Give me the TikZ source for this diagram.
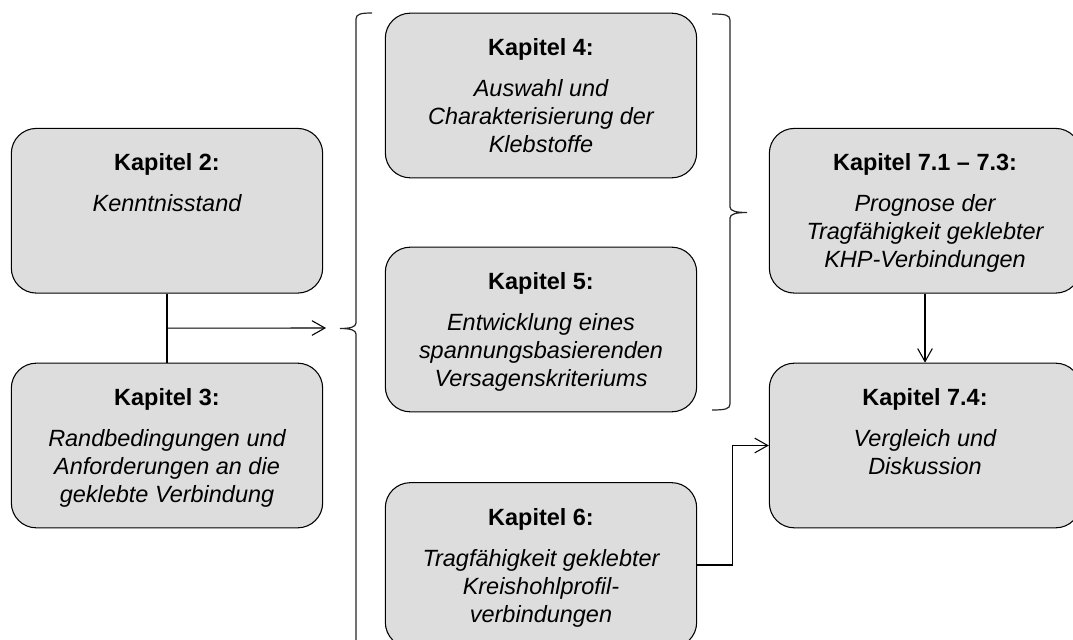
\documentclass[tikz,border=0pt]{standalone}
\usepackage{fontspec}
\setmainfont{Liberation Sans}
\usetikzlibrary{arrows.meta,calc}
\definecolor{boxgray}{HTML}{DDDDDD}
\newcommand{\bodytext}[1]{\begin{minipage}[t]{228pt}\centering\fontsize{17.6}{21}\selectfont\itshape #1\end{minipage}}
\tikzset{
  chap/.style={draw=black, line width=0.8pt, fill=boxgray, rounded corners=18.75pt,
    minimum width=233.5pt, minimum height=123.5pt, inner sep=0pt},
  ttl/.style={anchor=base, inner sep=0pt, font=\fontsize{17.6}{21}\selectfont\bfseries},
  bodyt/.style={anchor=base, inner sep=0pt},
  conn/.style={line width=0.8pt},
  arr/.style={conn, -{Straight Barb[length=9.75pt,width=11pt]}},
  brace/.style={line width=0.9pt, draw=black!85},
}
\begin{document}
\begin{tikzpicture}[x=0.75pt,y=-0.75pt]
\useasboundingbox (0,0) rectangle (1073,639);
\clip (0,0) rectangle (1073,639);

% boxes
\node[chap] (k2) at (167,210.75) {};
\node[chap] (k3) at (167,445.5) {};
\node[chap] (k4) at (541,95.5) {};
\node[chap] (k5) at (541,329.5) {};
\node[chap] (k6) at (541,565) {};
\node[chap] (k71) at (925,210.75) {};
\node[chap] (k74) at (925,445.5) {};

% texts
\node[ttl] (k2t) at ($(k2.north)+(0,43)$) {Kapitel 2:};
\node[bodyt] (k2b) at ($(k2.north)+(0,84)$) {\bodytext{Kenntnisstand}};

\node[ttl] (k3t) at ($(k3.north)+(0,43)$) {Kapitel 3:};
\node[bodyt] (k3b) at ($(k3.north)+(0,84)$) {\bodytext{Randbedingungen und\\Anforderungen an die\\geklebte Verbindung}};

\node[ttl] (k4t) at ($(k4.north)+(0,43)$) {Kapitel 4:};
\node[bodyt] (k4b) at ($(k4.north)+(0,84)$) {\bodytext{Auswahl und\\Charakterisierung der\\Klebstoffe}};

\node[ttl] (k5t) at ($(k5.north)+(0,43)$) {Kapitel 5:};
\node[bodyt] (k5b) at ($(k5.north)+(0,84)$) {\bodytext{Entwicklung eines\\spannungsbasierenden\\Versagenskriteriums}};

\node[ttl] (k6t) at ($(k6.north)+(0,43)$) {Kapitel 6:};
\node[bodyt] (k6b) at ($(k6.north)+(0,84)$) {\bodytext{Tragfähigkeit geklebter\\Kreishohlprofil-\\verbindungen}};

\node[ttl] (k71t) at ($(k71.north)+(0,43)$) {Kapitel 7.1 -- 7.3:};
\node[bodyt] (k71b) at ($(k71.north)+(0,84)$) {\bodytext{Prognose der\\Tragfähigkeit geklebter\\KHP-Verbindungen}};

\node[ttl] (k74t) at ($(k74.north)+(0,43)$) {Kapitel 7.4:};
\node[bodyt] (k74b) at ($(k74.north)+(0,84)$) {\bodytext{Vergleich und\\Diskussion}};

% connectors
\coordinate (mid23) at ($(k2.south)!0.5!(k3.north)$);
\coordinate (lbin) at (326,328);
\draw[conn] (k2.south) -- (k3.north);
\draw[arr] (mid23) -- (lbin);
\draw[arr] (k71.south) -- (k74.north);
\draw[arr] (k6.east) -- ++(35,0) |- (k74.west);

% braces
\draw[brace] (372,13) .. controls (361,13) and (356,14) .. (356,19) -- (356,323)
  .. controls (356,327) and (350,328.5) .. (340,328.5)
  .. controls (350,328.5) and (356,330) .. (356,334) -- (356,660);
\draw[brace] (712,14) .. controls (725,14) and (730,15) .. (730,20) -- (730,207)
  .. controls (730,211) and (736,212.5) .. (747,212.5)
  .. controls (736,212.5) and (730,214) .. (730,218) -- (730,404)
  .. controls (730,409) and (725,410) .. (712,410);
\end{tikzpicture}
\end{document}
